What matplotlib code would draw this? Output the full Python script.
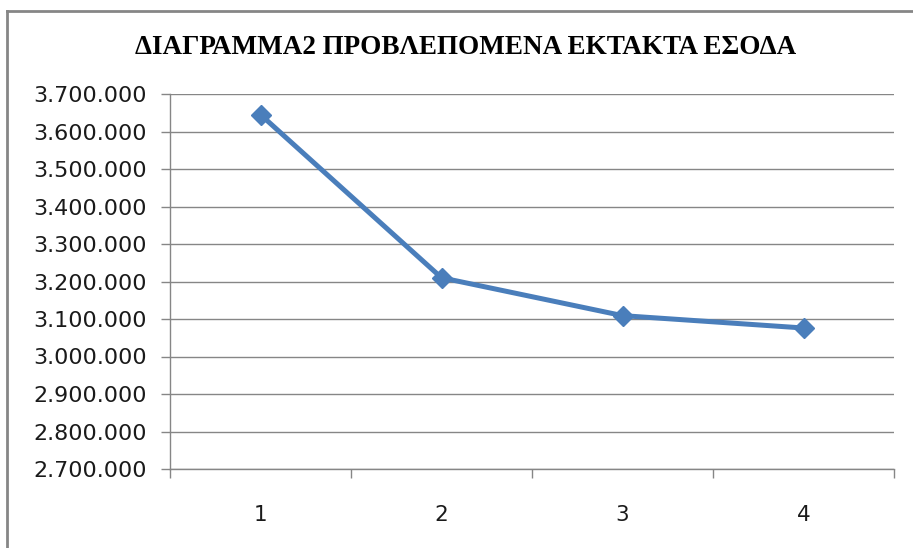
import matplotlib
matplotlib.use("Agg")
import matplotlib.pyplot as plt
from matplotlib.ticker import FuncFormatter, FixedLocator
from matplotlib.lines import Line2D

title = "ΔΙΑΓΡΑΜΜΑ2 ΠΡΟΒΛΕΠΟΜΕΝΑ ΕΚΤΑΚΤΑ ΕΣΟΔΑ"
categories = ["1", "2", "3", "4"]
values = [3645000, 3210000, 3109000, 3076000]
y_ticks = [2700000, 2800000, 2900000, 3000000, 3100000, 3200000, 3300000, 3400000, 3500000, 3600000, 3700000]

W, H = 913, 548
fig = plt.figure(figsize=(W / 100, H / 100), dpi=100)
fig.patch.set_facecolor("white")
# chart-area border (top and left visible)
fig.lines.append(Line2D([7 / W, 1.0], [1 - 11 / H, 1 - 11 / H], transform=fig.transFigure,
                        color="#868686", linewidth=2))
fig.lines.append(Line2D([7 / W, 7 / W], [0.0, 1 - 11 / H], transform=fig.transFigure,
                        color="#868686", linewidth=2))

ax = fig.add_axes([170 / W, 1 - 469 / H, 724 / W, 375 / H])
x = list(range(1, len(categories) + 1))
ax.plot(x, values, color="#4A7EBB", linewidth=3.6, marker="D", markersize=10.5,
        markerfacecolor="#4A7EBB", markeredgecolor="#4A7EBB", zorder=3)

ax.set_xlim(0.5, len(categories) + 0.5)
ax.set_ylim(y_ticks[0], y_ticks[-1])
ax.set_yticks(y_ticks)
ax.yaxis.set_major_formatter(FuncFormatter(lambda v, p: f"{int(v):,}".replace(",", ".")))
ax.grid(axis="y", color="#868686", linewidth=1)
ax.set_axisbelow(True)

ax.xaxis.set_major_locator(FixedLocator([i + 0.5 for i in range(0, len(categories) + 1)]))
ax.xaxis.set_major_formatter(FuncFormatter(lambda v, p: ""))
ax.xaxis.set_minor_locator(FixedLocator(x))
ax.set_xticks(x, categories, minor=True)
ax.tick_params(axis="x", which="major", length=6.5, color="#868686", width=1, direction="out")
ax.tick_params(axis="x", which="minor", length=0, pad=26, labelsize=15.5, labelcolor="#1a1a1a")
ax.tick_params(axis="y", length=6.5, color="#868686", width=1, labelsize=16, labelcolor="#1a1a1a", pad=10)

for s in ["top", "right"]:
    ax.spines[s].set_visible(False)
for s in ["left", "bottom"]:
    ax.spines[s].set_color("#868686")
    ax.spines[s].set_linewidth(1)

for lab in ax.get_yticklabels() + ax.get_xticklabels(minor=True):
    lab.set_family(["DejaVu Sans"])

fig.text(466 / W, 1 - 47 / H, title, ha="center", va="center", fontsize=19.5, fontweight="bold",
         family=["Liberation Serif", "DejaVu Serif"])

fig.savefig("out.png", dpi=100)
